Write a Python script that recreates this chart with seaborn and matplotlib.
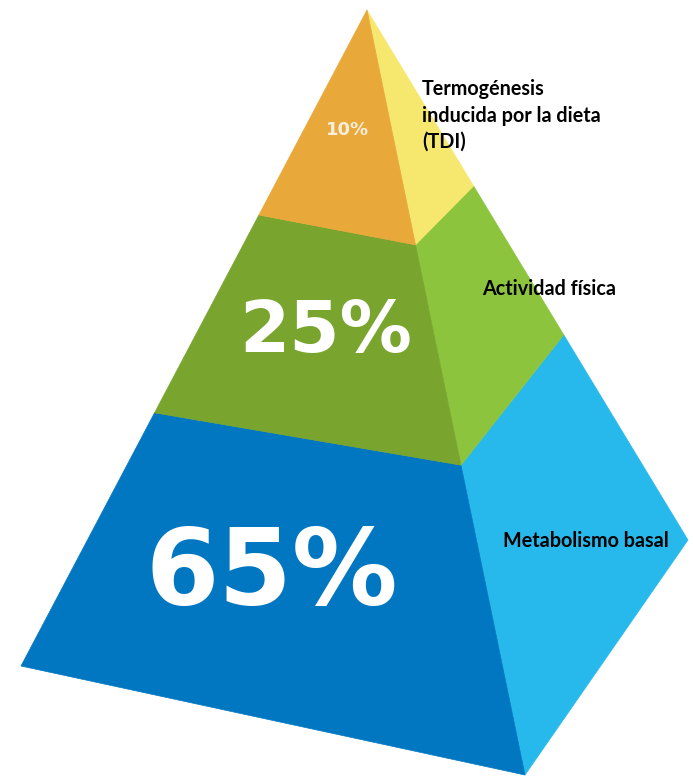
import matplotlib
matplotlib.use("Agg")
import matplotlib.pyplot as plt
from matplotlib.patches import Polygon
import seaborn as sns
import numpy as np

# ---- data ----
layers = ["Metabolismo basal", "Actividad física", "Termogénesis inducida por la dieta (TDI)"]
percentages = [65, 25, 10]
label_lines = [["Metabolismo basal"], ["Actividad física"],
               ["Termogénesis", "inducida por la dieta", "(TDI)"]]
front_colors = ["#0277C1", "#79A52F", "#E9A83A"]
side_colors = ["#28B9EC", "#8DC43E", "#F6E86E"]

sns.set_style("white")
plt.rcParams['font.family'] = ['Lato', 'DejaVu Sans']

W, H = 693, 777
fig = plt.figure(figsize=(W / 100, H / 100), dpi=100)
ax = fig.add_axes([0, 0, 1, 1])
ax.set_xlim(0, W)
ax.set_ylim(H, 0)
ax.axis("off")

# pyramid geometry (pixel space)
apex = np.array([367.0, 10.0])
left = np.array([21.0, 666.0])
front = np.array([525.0, 775.0])
right = np.array([688.0, 540.0])
# fraction along each edge (from apex) where layer boundaries fall (perspective)
frac_left = [1.0, 0.614, 0.3125, 0.0]
frac_front = [1.0, 0.595, 0.307, 0.0]
frac_right = [1.0, 0.613, 0.332, 0.0]

def pt(base, f):
    return apex + (base - apex) * f

for i in range(len(percentages)):
    fl0, fl1 = frac_left[i], frac_left[i + 1]
    ff0, ff1 = frac_front[i], frac_front[i + 1]
    fr0, fr1 = frac_right[i], frac_right[i + 1]
    fpoly = [pt(left, fl0), pt(front, ff0), pt(front, ff1), pt(left, fl1)]
    spoly = [pt(front, ff0), pt(right, fr0), pt(right, fr1), pt(front, ff1)]
    ax.add_patch(Polygon(spoly, closed=True, facecolor=side_colors[i], edgecolor=side_colors[i], lw=0.5))
    ax.add_patch(Polygon(fpoly, closed=True, facecolor=front_colors[i], edgecolor=front_colors[i], lw=0.5))

# percentage labels
pct_pos = [(272, 605, 76), (326, 352, 52), (348, 135, 13)]
pct_colors = ["white", "white", "#F8EEDD"]
for p, (x, y, fs), c in zip(percentages, pct_pos, pct_colors):
    ax.text(x, y, f"{p}%", ha="center", va="baseline", color=c,
            fontsize=fs, fontweight="bold", family=["DejaVu Sans"])

# category labels
lab_pos = [(503, 547), (482, 295), (422, 95)]
line_gap = 26.5
for lines, (x, y) in zip(label_lines, lab_pos):
    for k, line in enumerate(lines):
        ax.text(x, y + k * line_gap, line, ha="left", va="baseline",
                color="black", fontsize=14.2, fontweight="bold")

fig.savefig("out.png", dpi=100)
